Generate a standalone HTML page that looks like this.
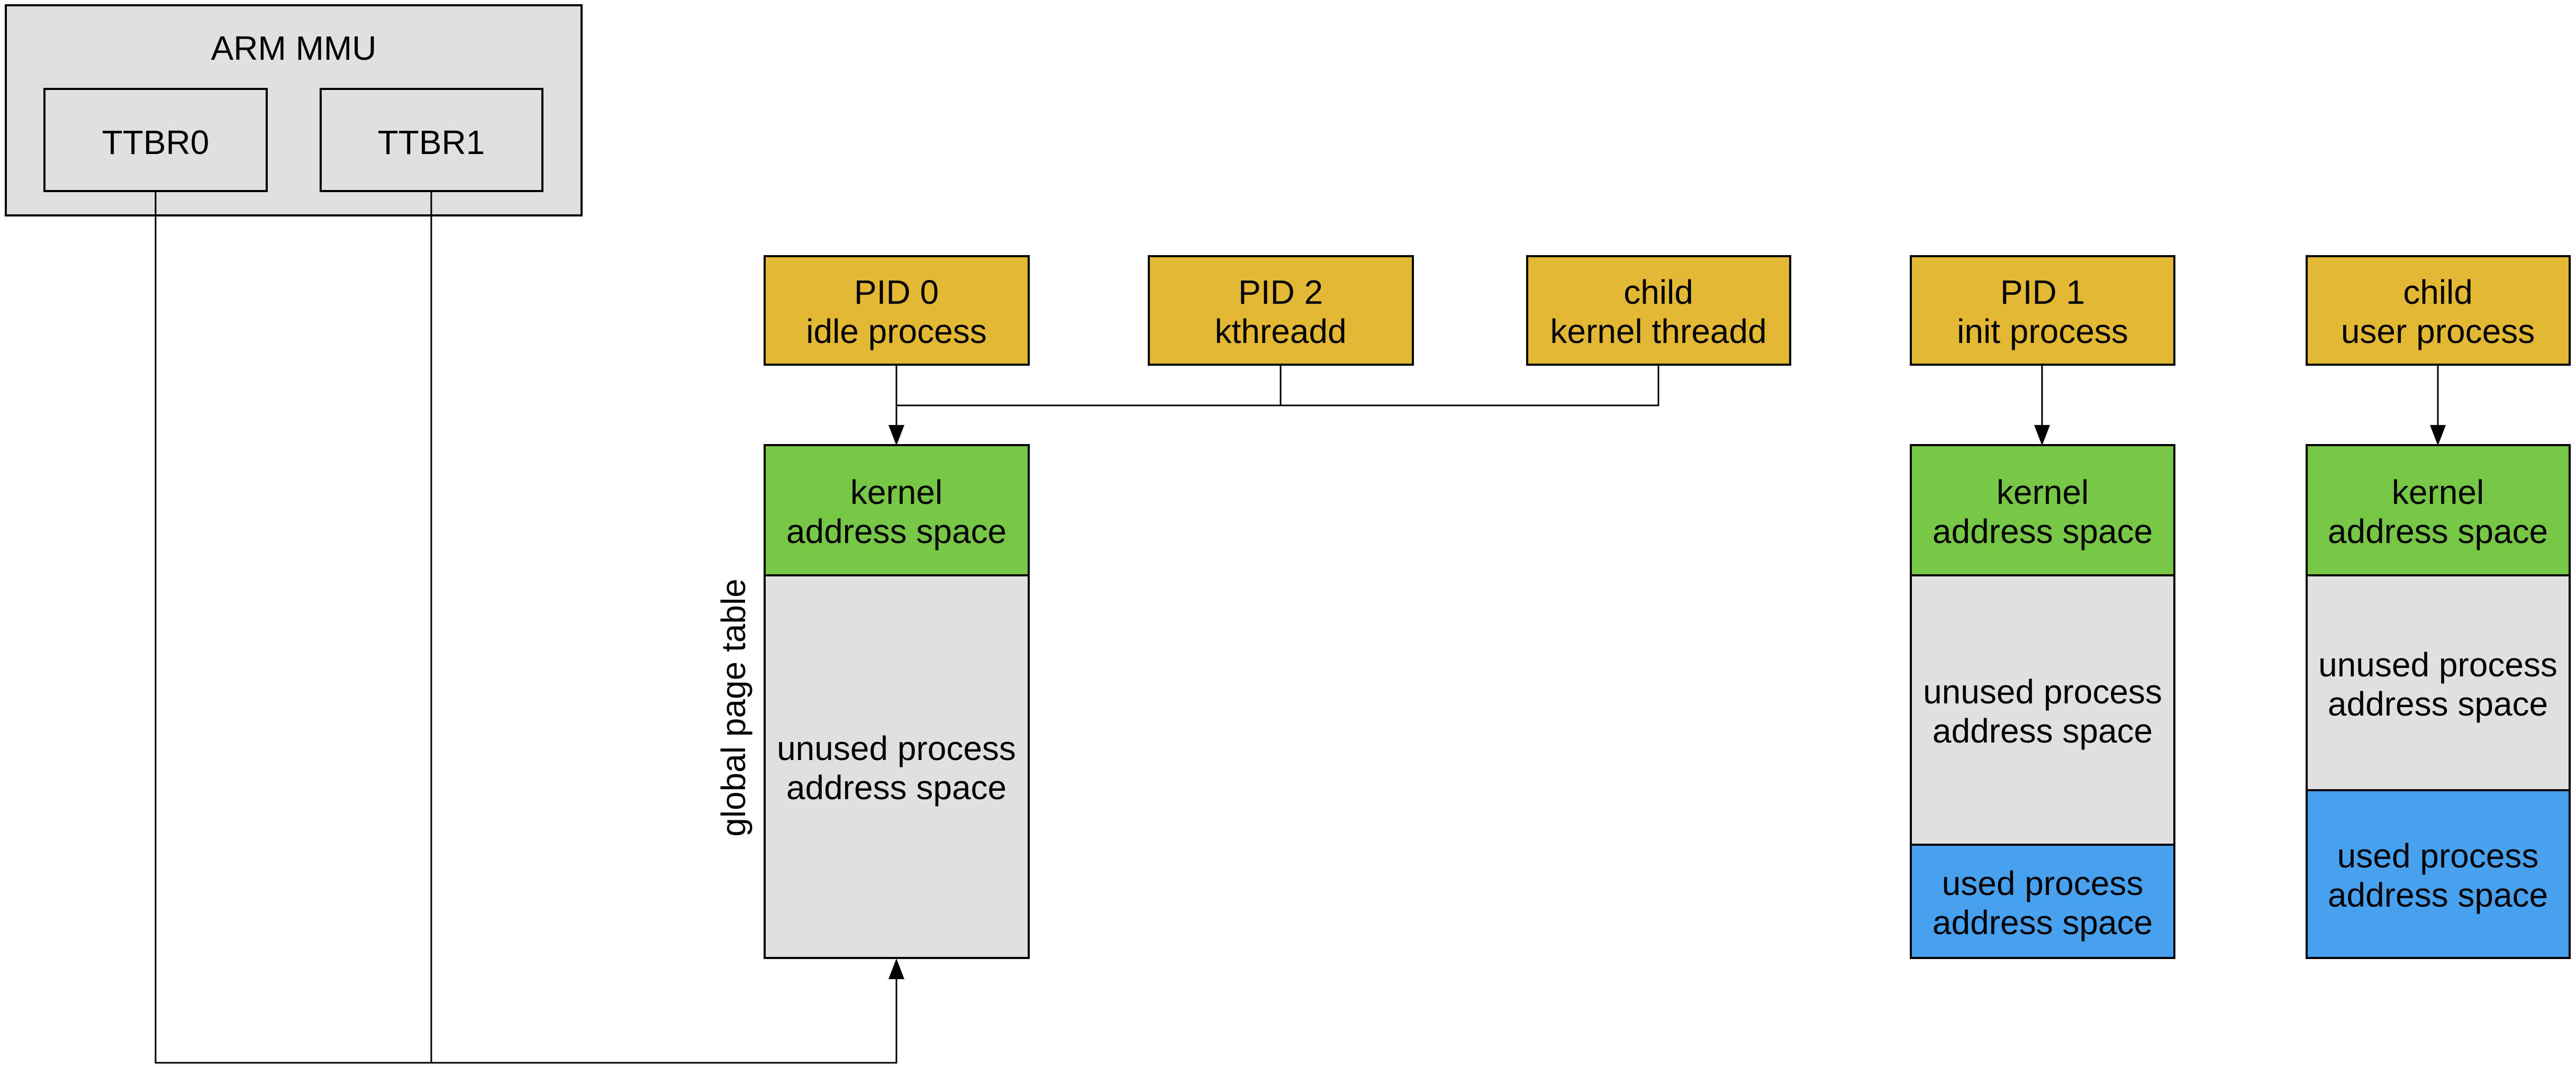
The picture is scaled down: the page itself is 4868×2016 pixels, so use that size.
<!DOCTYPE html>
<html><head><meta charset="utf-8"><style>
html,body{margin:0;padding:0;background:#fff;}
svg{display:block;}
text{font-family:"Liberation Sans",Arial,sans-serif;font-size:64px;fill:#000;text-anchor:middle;dominant-baseline:central;}
</style></head><body>
<svg width="4868" height="2016" viewBox="0 0 4868 2016" xmlns="http://www.w3.org/2000/svg">
<g stroke="#000" stroke-width="4">
<rect x="11" y="10" width="1088" height="397" fill="#e0e0e0"/>
<rect x="84" y="168" width="420" height="193" fill="#e0e0e0"/>
<rect x="606" y="168" width="419" height="193" fill="#e0e0e0"/>
</g>
<g transform="translate(0,3)">
<text x="555" y="88">ARM MMU</text>
<text x="294" y="266">TTBR0</text>
<text x="815" y="266">TTBR1</text>
</g>

<g fill="none" stroke="#000" stroke-width="3">
<polyline points="294,361 294,2008 1694,2008 1694,1850"/>
<line x1="815" y1="361" x2="815" y2="2008"/>
<polyline points="1694,689 1694,810"/>
<polyline points="1694,766 3134,766 3134,689"/>
<line x1="2420" y1="689" x2="2420" y2="766"/>
<line x1="3859" y1="689" x2="3859" y2="810"/>
<line x1="4607" y1="689" x2="4607" y2="810"/>
</g>
<g fill="#000">
<polygon points="1679,803 1709,803 1694,842"/>
<polygon points="3844,803 3874,803 3859,842"/>
<polygon points="4592,803 4622,803 4607,842"/>
<polygon points="1679,1850 1709,1850 1694,1811"/>
</g>

<g stroke="#000" stroke-width="4" fill="#e3b832">
<rect x="1445" y="484" width="499" height="205"/>
<rect x="2171" y="484" width="499" height="205"/>
<rect x="2886" y="484" width="497" height="205"/>
<rect x="3611" y="484" width="498" height="205"/>
<rect x="4359" y="484" width="497" height="205"/>
</g>
<g stroke="#000" stroke-width="4">
<rect x="1445" y="841" width="499" height="246" fill="#78c645"/>
<rect x="1445" y="1087" width="499" height="723" fill="#e0e0e0"/>
<rect x="3611" y="841" width="498" height="246" fill="#78c645"/>
<rect x="3611" y="1087" width="498" height="509" fill="#e0e0e0"/>
<rect x="3611" y="1596" width="498" height="214" fill="#48a1ef"/>
<rect x="4359" y="841" width="497" height="246" fill="#78c645"/>
<rect x="4359" y="1087" width="497" height="406" fill="#e0e0e0"/>
<rect x="4359" y="1493" width="497" height="317" fill="#48a1ef"/>
</g>
<g transform="translate(0,3)">
<text x="1694" y="549">PID 0</text><text x="1694" y="623">idle process</text>
<text x="2420" y="549">PID 2</text><text x="2420" y="623">kthreadd</text>
<text x="3134" y="549">child</text><text x="3134" y="623">kernel threadd</text>
<text x="3860" y="549">PID 1</text><text x="3860" y="623">init process</text>
<text x="4607" y="549">child</text><text x="4607" y="623">user process</text>
<text x="1694" y="927">kernel</text><text x="1694" y="1001">address space</text>
<text x="1694" y="1411">unused process</text><text x="1694" y="1485">address space</text>
<text x="3860" y="927">kernel</text><text x="3860" y="1001">address space</text>
<text x="3860" y="1304">unused process</text><text x="3860" y="1378">address space</text>
<text x="3860" y="1666">used process</text><text x="3860" y="1740">address space</text>
<text x="4607" y="927">kernel</text><text x="4607" y="1001">address space</text>
<text x="4607" y="1253">unused process</text><text x="4607" y="1327">address space</text>
<text x="4607" y="1614">used process</text><text x="4607" y="1688">address space</text>
</g>
<text x="1386" y="1337" transform="rotate(-90 1386 1337)">global page table</text>
</svg>
</body></html>
